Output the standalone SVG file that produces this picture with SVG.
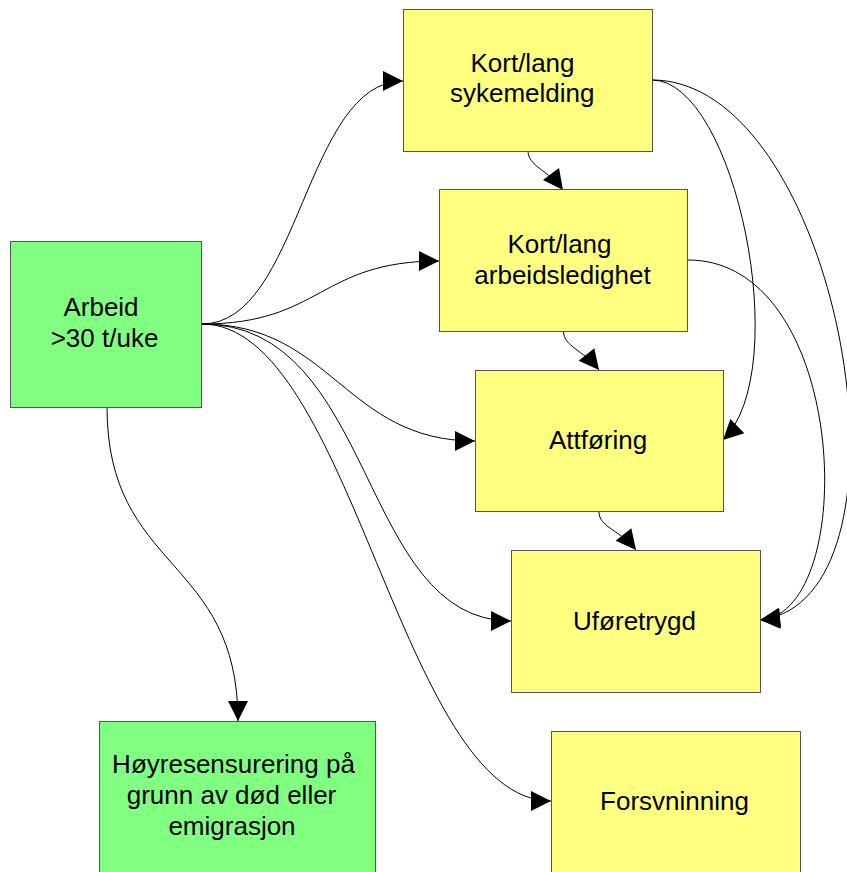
<svg xmlns="http://www.w3.org/2000/svg" width="847" height="872" viewBox="0 0 847 872">
<style>
.green{fill:#80ff80;stroke:#555;stroke-width:1}
.yellow{fill:#ffff80;stroke:#555;stroke-width:1}
text{font-family:"Liberation Sans",Arial,sans-serif;font-size:26px;fill:#000}
.c{text-anchor:middle}
.edge{fill:none;stroke:#000;stroke-width:1;marker-end:url(#arr)}
</style>
<defs>
<marker id="arr" markerUnits="userSpaceOnUse" markerWidth="20" markerHeight="20" refX="20" refY="10" orient="auto" overflow="visible">
<path d="M0,0 L20,10 L0,20 Z" fill="#000"/>
</marker>
</defs>
<rect width="847" height="872" fill="#fff"/>
<g id="connectors">
<path class="edge" d="M202,324 C300,324 305,81 403,81"/>
<path class="edge" d="M202,324 C322,324 319,261 439,261"/>
<path class="edge" d="M202,324 C332,324 345,441 475,441"/>
<path class="edge" d="M202,324 C377,324 358,621 511,621"/>
<path class="edge" d="M202,324 C352,324 401,801 551,801"/>
<path class="edge" d="M107,407 C107,572 238,556 238,721"/>
<path class="edge" d="M528,151 C528,166 548,170 563,190"/>
<path class="edge" d="M563.5,331.5 C563.5,346 583,350 599,370"/>
<path class="edge" d="M599,512 C599,527 620,530 636,550"/>
<path class="edge" d="M652,80 C735,80 795,370 723,440"/>
<path class="edge" d="M688,260 C850,260 860,614 760,620"/>
<path class="edge" d="M652,80 C840,80 930,600 760,620"/>
</g>
<g id="n-arbeid">
<rect class="green" x="10.5" y="241.5" width="191" height="166"/>
<text class="c" x="101" y="316">Arbeid</text>
<text class="c" x="104.5" y="347">&gt;30 t/uke</text>
</g>
<g id="n-sykemelding">
<rect class="yellow" x="403.5" y="9.5" width="249" height="142"/>
<text class="c" x="522.5" y="72">Kort/lang</text>
<text x="450" y="102">sykemelding<tspan fill="#ffff00">:</tspan></text>
</g>
<g id="n-arbeidsledighet">
<rect class="yellow" x="439.5" y="189.5" width="248" height="142"/>
<text class="c" x="559.5" y="253">Kort/lang</text>
<text class="c" x="562.5" y="284">arbeidsledighet</text>
</g>
<g id="n-attforing">
<rect class="yellow" x="475.5" y="370.5" width="248" height="141"/>
<text class="c" x="598" y="449">Attføring</text>
</g>
<g id="n-uforetrygd">
<rect class="yellow" x="511.5" y="550.5" width="249" height="142"/>
<text class="c" x="634.5" y="630">Uføretrygd</text>
</g>
<g id="n-forsvinning">
<rect class="yellow" x="551.5" y="731.5" width="249" height="150"/>
<text class="c" x="674.5" y="810">Forsvninning</text>
</g>
<g id="n-hoyresensurering">
<rect class="green" x="99.5" y="721.5" width="276" height="160"/>
<text class="c" x="233.5" y="773">Høyresensurering på</text>
<text class="c" x="231.5" y="804">grunn av død eller</text>
<text class="c" x="232" y="835">emigrasjon</text>
</g>
</svg>
